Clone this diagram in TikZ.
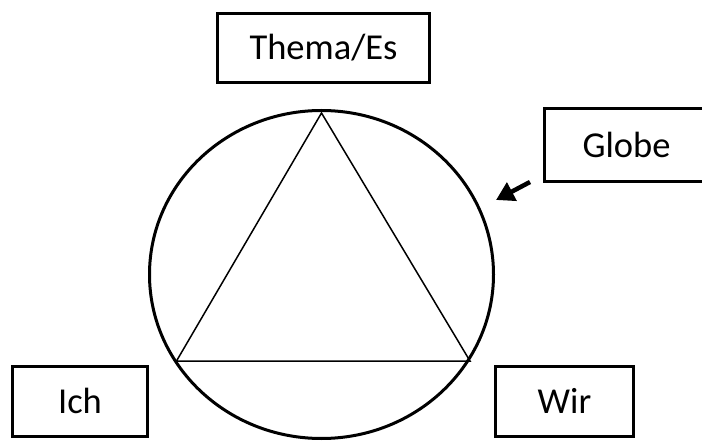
\documentclass[tikz,border=0pt]{standalone}
\usepackage{fontspec}
\setmainfont{Carlito}
\usepackage{tikz}
\usetikzlibrary{arrows.meta,shapes.geometric}

\begin{document}
\begin{tikzpicture}[x=1pt, y=-1pt,
    feld/.style={draw, line width=3pt, inner sep=0pt, minimum height=70pt,
      text height=23.5pt, text depth=0pt, font=\fontsize{36.5}{40}\selectfont}]
    \useasboundingbox (0,0) rectangle (702,441);
    \clip (0,0) rectangle (702,441);

    \node[feld, minimum width=212pt, minimum height=69pt] (thema) at (323.5,48) {Thema/Es};
    % Globe-Kasten laeuft ueber den rechten Rand hinaus
    \node[feld, draw=none, minimum width=162pt] (globe) at (626.5,145.5) {Globe};
    \draw[line width=3pt] (globe.north east) ++(40,0) -- (globe.north west)
      -- (globe.south west) -- ++(202,0);
    \node[feld, minimum width=135pt] (ich) at (80,401.5) {Ich};
    \node[feld, minimum width=138pt] (wir) at (564.5,401.5) {Wir};

    \node[draw, ellipse, line width=3pt, inner sep=0pt,
      minimum width=344pt, minimum height=328pt] (globus) at (321.5,274.5) {};

    % Dreieck im Globe
    \coordinate (spitze) at (321.5,113);
    \coordinate (links) at (176.5,361);
    \coordinate (rechts) at (470,361);
    \draw[line width=1.5pt] (spitze) -- (links) -- (rechts) -- cycle;

    % Pfeil auf den Globe
    \coordinate (pfeilstart) at (530,182);
    \coordinate (pfeilspitze) at (496,200);
    \draw[-{Triangle[length=18pt,width=20pt]}, line width=4.5pt] (pfeilstart) -- (pfeilspitze);
  \end{tikzpicture}
\end{document}
